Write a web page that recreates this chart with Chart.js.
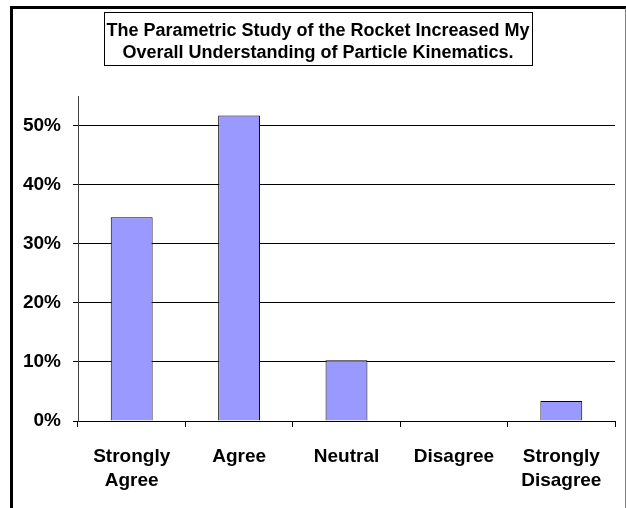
<!DOCTYPE html>
<html>
<head>
<meta charset="utf-8">
<script src="https://cdn.jsdelivr.net/npm/chart.js@4.4.1/dist/chart.umd.min.js"></script>
<style>
  html, body { margin: 0; padding: 0; background: #fff; overflow: hidden; }
  #wrap { position: relative; width: 626px; height: 508px; }
  #frame {
    position: absolute; left: 10px; top: 6px; width: 612px; height: 540px;
    border-left: 3px solid #000; border-top: 3px solid #000; border-right: 2px solid #808080;
  }
  #rankChart { position: absolute; left: 0; top: 0; }
</style>
</head>
<body>
<div id="wrap">
  <div id="frame"></div>
  <canvas id="rankChart" width="626" height="508"></canvas>
</div>
<script>
// chart data
const categories = [["Strongly", "Agree"], "Agree", "Neutral", "Disagree", ["Strongly", "Disagree"]];
const percents = [34.5, 51.7, 10.3, 0, 3.4];
const yTicks = [0, 10, 20, 30, 40, 50];
const titleLines = ["The Parametric Study of the Rocket Increased My", "Overall Understanding of Particle Kinematics."];

const fontFamily = "'Liberation Sans', Arial, sans-serif";

// draws the boxed title above the plot
const titleBox = {
  id: "titleBox",
  afterDraw(chart) {
    const ctx = chart.ctx;
    ctx.save();
    ctx.font = "bold 18px " + fontFamily;
    ctx.fillStyle = "#000";
    ctx.textAlign = "center";
    ctx.textBaseline = "alphabetic";
    ctx.fillText(titleLines[0], 318, 36);
    ctx.fillText(titleLines[1], 318, 58);
    ctx.strokeStyle = "#000";
    ctx.lineWidth = 1;
    ctx.strokeRect(104.5, 12.5, 428, 53);
    ctx.restore();
  }
};

const chart = new Chart(document.getElementById("rankChart").getContext("2d"), {
  type: "bar",
  data: {
    labels: categories,
    datasets: [{
      data: percents,
      backgroundColor: "#9999FF",
      borderColor: "#000",
      borderWidth: 1,
      barPercentage: 0.39,
      categoryPercentage: 1
    }]
  },
  options: {
    responsive: false,
    animation: false,
    devicePixelRatio: 1,
    layout: { padding: { top: 96, left: 0, right: 11, bottom: 0 } },
    plugins: {
      legend: { display: false },
      title: { display: false },
      tooltip: { enabled: false }
    },
    scales: {
      x: {
        afterFit: (scale) => { scale.height = 87; },
        grid: {
          offset: true,
          drawOnChartArea: false,
          drawTicks: true,
          tickLength: 6,
          tickColor: "#000"
        },
        border: { color: "#000", width: 1 },
        ticks: {
          color: "#000",
          padding: 18,
          font: { family: fontFamily, size: 19, weight: "bold", lineHeight: 1.26 },
          maxRotation: 0
        }
      },
      y: {
        min: 0,
        max: 55,
        afterFit: (scale) => { scale.width = 78; },
        afterBuildTicks: (scale) => {
          scale.ticks = yTicks.map(v => ({ value: v }));
        },
        grid: {
          color: "#000",
          lineWidth: 1,
          tickLength: 5,
          tickColor: "#000"
        },
        border: { color: "#404040", width: 1 },
        ticks: {
          color: "#000",
          padding: 12,
          font: { family: fontFamily, size: 19, weight: "bold" },
          callback: (v) => v + "%"
        }
      }
    }
  },
  plugins: [titleBox]
});
</script>
</body>
</html>
